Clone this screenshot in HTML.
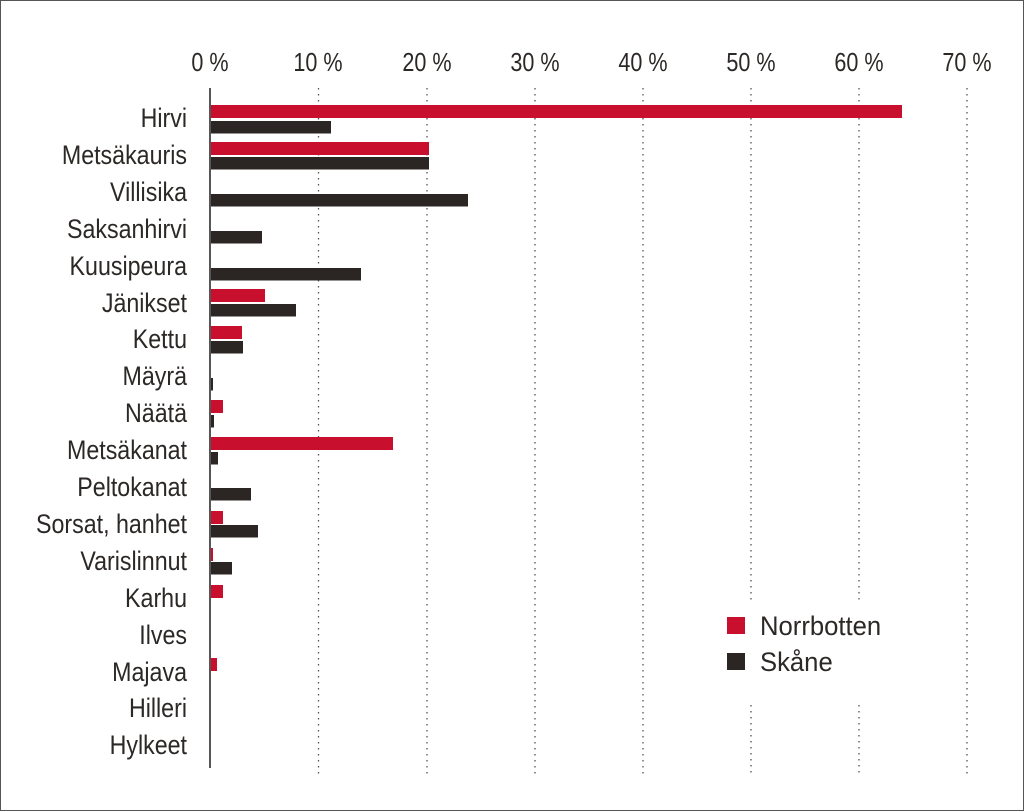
<!DOCTYPE html>
<html><head><meta charset="utf-8"><style>
html,body{margin:0;padding:0;background:#fff}
svg{display:block}
text{font-family:"Liberation Sans",sans-serif;fill:#2b2826}
</style></head><body>
<svg width="1024" height="811" viewBox="0 0 1024 811">
<rect x="0.5" y="0.5" width="1023" height="810" fill="#fff" stroke="#555" stroke-width="1"/>
<g stroke="#555" stroke-width="1.3" stroke-dasharray="1.5,4.5">
<line x1="318.5" y1="88" x2="318.5" y2="775"/>
<line x1="427" y1="88" x2="427" y2="775"/>
<line x1="535" y1="88" x2="535" y2="775"/>
<line x1="643" y1="88" x2="643" y2="775"/>
<line x1="751" y1="88" x2="751" y2="600"/>
<line x1="751" y1="705" x2="751" y2="775"/>
<line x1="859" y1="88" x2="859" y2="600"/>
<line x1="859" y1="705" x2="859" y2="775"/>
<line x1="967" y1="88" x2="967" y2="775"/>
</g>
<g font-size="26" text-anchor="middle">
<text x="210" y="71" transform="translate(210,0) scale(0.83,1) translate(-210,0)">0 %</text>
<text x="318" y="71" transform="translate(318,0) scale(0.83,1) translate(-318,0)">10 %</text>
<text x="427" y="71" transform="translate(427,0) scale(0.83,1) translate(-427,0)">20 %</text>
<text x="535" y="71" transform="translate(535,0) scale(0.83,1) translate(-535,0)">30 %</text>
<text x="643" y="71" transform="translate(643,0) scale(0.83,1) translate(-643,0)">40 %</text>
<text x="751" y="71" transform="translate(751,0) scale(0.83,1) translate(-751,0)">50 %</text>
<text x="859" y="71" transform="translate(859,0) scale(0.83,1) translate(-859,0)">60 %</text>
<text x="967" y="71" transform="translate(967,0) scale(0.83,1) translate(-967,0)">70 %</text>
</g>
<g font-size="27" text-anchor="end" transform="translate(187,0) scale(0.86,1) translate(-187,0)">
<text x="187" y="127">Hirvi</text>
<text x="187" y="164">Metsäkauris</text>
<text x="187" y="201">Villisika</text>
<text x="187" y="238">Saksanhirvi</text>
<text x="187" y="275">Kuusipeura</text>
<text x="187" y="312">Jänikset</text>
<text x="187" y="348">Kettu</text>
<text x="187" y="385">Mäyrä</text>
<text x="187" y="422">Näätä</text>
<text x="187" y="459">Metsäkanat</text>
<text x="187" y="496">Peltokanat</text>
<text x="187" y="533">Sorsat, hanhet</text>
<text x="187" y="570">Varislinnut</text>
<text x="187" y="607">Karhu</text>
<text x="187" y="644">Ilves</text>
<text x="187" y="681">Majava</text>
<text x="187" y="717">Hilleri</text>
<text x="187" y="754">Hylkeet</text>
</g>
<g fill="#c8102e">
<rect x="211" y="105" width="691" height="13"/>
<rect x="211" y="142" width="218" height="13"/>
<rect x="211" y="289" width="54" height="13"/>
<rect x="211" y="326" width="31" height="13"/>
<rect x="211" y="400" width="12" height="13"/>
<rect x="211" y="437" width="182" height="13"/>
<rect x="211" y="511" width="12" height="13"/>
<rect x="211" y="548" width="2" height="13"/>
<rect x="211" y="585" width="12" height="13"/>
<rect x="211" y="658" width="6" height="13"/>
</g>
<g fill="#2b2623">
<rect x="211" y="121" width="120" height="12.5"/>
<rect x="211" y="157" width="218" height="12.5"/>
<rect x="211" y="194" width="257" height="12.5"/>
<rect x="211" y="231" width="51" height="12.5"/>
<rect x="211" y="268" width="150" height="12.5"/>
<rect x="211" y="304" width="85" height="12.5"/>
<rect x="211" y="341" width="32" height="12.5"/>
<rect x="211" y="378" width="2" height="12.5"/>
<rect x="211" y="415" width="3" height="12.5"/>
<rect x="211" y="452" width="7" height="12.5"/>
<rect x="211" y="488" width="40" height="12.5"/>
<rect x="211" y="525" width="47" height="12.5"/>
<rect x="211" y="562" width="21" height="12.5"/>
</g>
<line x1="210" y1="88" x2="210" y2="768" stroke="#444" stroke-width="1.8"/>
<rect x="727" y="617" width="18" height="17" fill="#c8102e"/>
<rect x="727" y="653" width="18" height="17" fill="#2b2623"/>
<g font-size="27" transform="translate(760,0) scale(0.95,1) translate(-760,0)">
<text x="760" y="635">Norrbotten</text>
<text x="760" y="671">Skåne</text>
</g>
</svg>
</body></html>
